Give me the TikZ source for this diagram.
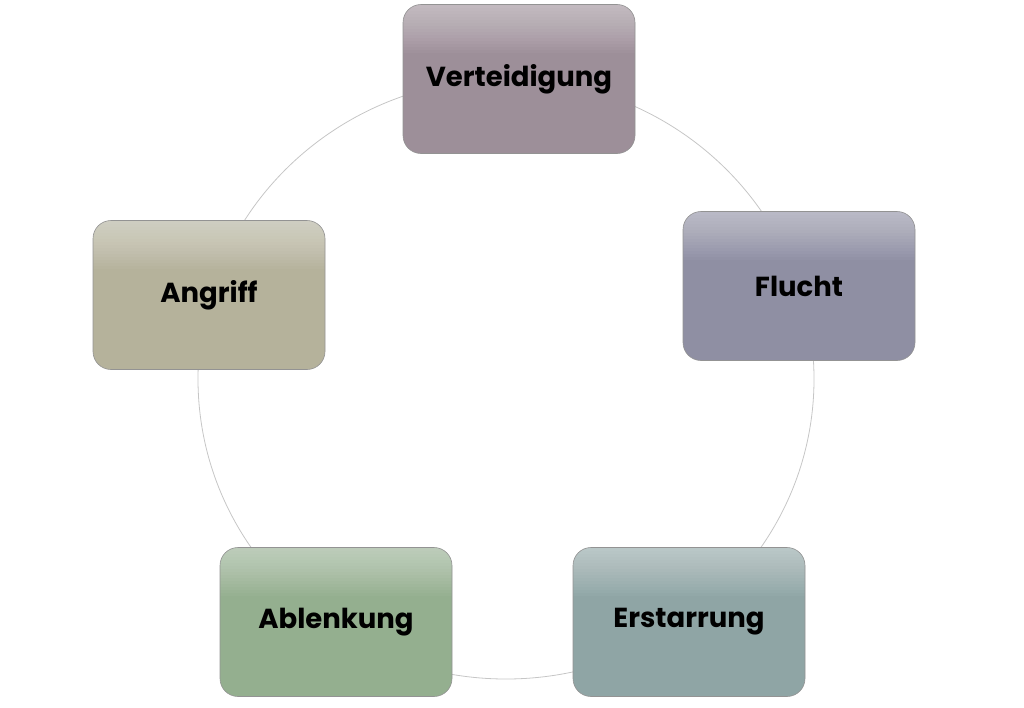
\documentclass[tikz,border=0pt]{standalone}
\usepackage{fontspec}
\setmainfont{Poppins}[BoldFont={* Bold}]
\definecolor{cV}{RGB}{157,143,153}
\definecolor{cF}{RGB}{143,143,163}
\definecolor{cE}{RGB}{143,165,165}
\definecolor{cAb}{RGB}{148,175,143}
\definecolor{cAn}{RGB}{181,178,155}
\begin{document}
\begin{tikzpicture}[x=1pt,y=-1pt,
  cbox/.style={draw=gray!85,line width=0.6pt,rounded corners=18pt,fill=#1,
    minimum width=232pt,minimum height=149pt,inner sep=0pt,
    font=\fontsize{27.5}{32}\selectfont\bfseries,text=black,
    path picture={\foreach \d in {3,6,...,48}{
      \fill[sharp corners,white,opacity=0.035]
      (path picture bounding box.north west) rectangle
      ([yshift=-\d pt]path picture bounding box.north east);}}},
  ring/.style={draw=gray!45,line width=0.8pt}]
\useasboundingbox (0,0) rectangle (1024,707);
\draw[ring] (506,379) ellipse [x radius=308, y radius=300];
\node[cbox=cV] (v) at (519,79) {Verteidigung};
\node[cbox=cF] (f) at (799,286) {Flucht};
\node[cbox=cE] (e) at (689,622) {Erstarrung};
\node[cbox=cAb] (ab) at (336,622) {Ablenkung};
\node[cbox=cAn] (an) at (209,295) {Angriff};
\end{tikzpicture}
\end{document}
